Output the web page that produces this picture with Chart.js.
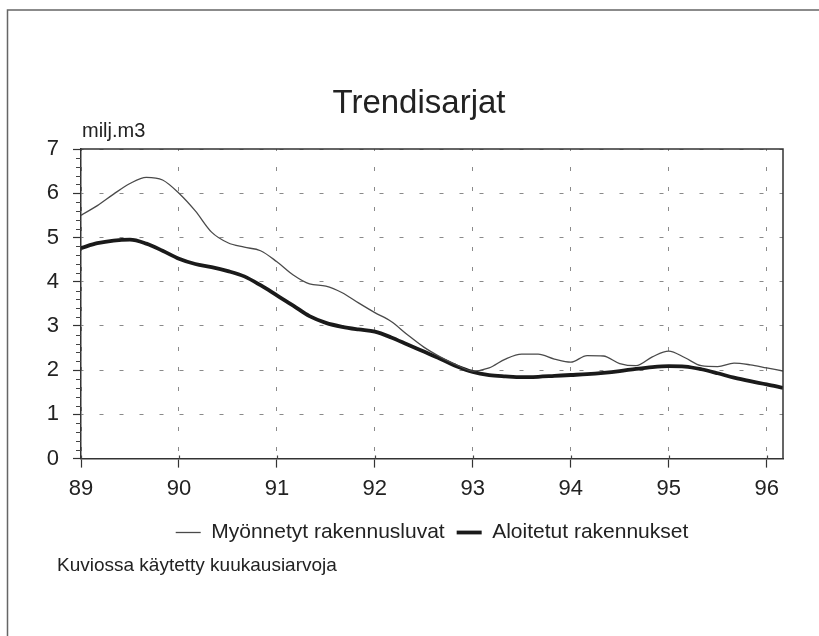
<!DOCTYPE html>
<html>
<head>
<meta charset="utf-8">
<script src="https://cdn.jsdelivr.net/npm/chart.js@4"></script>
<style>
  html, body { margin: 0; padding: 0; background: #fff; }
  #wrap { width: 819px; height: 636px; position: relative; }
</style>
</head>
<body>
<div id="wrap"><canvas id="c" width="819" height="636"></canvas></div>
<script>
// ---- data (decimal years, every 2 months) ----
const years = [
  89.0, 89.167, 89.333, 89.5, 89.667, 89.833,
  90.0, 90.167, 90.333, 90.5, 90.667, 90.833,
  91.0, 91.167, 91.333, 91.5, 91.667, 91.833,
  92.0, 92.167, 92.333, 92.5, 92.667, 92.833,
  93.0, 93.167, 93.333, 93.5, 93.667, 93.833,
  94.0, 94.167, 94.333, 94.5, 94.667, 94.833,
  95.0, 95.167, 95.333, 95.5, 95.667, 95.833,
  96.0, 96.167
];
const permits = [ // Myönnetyt rakennusluvat
  5.50, 5.72, 5.98, 6.22, 6.36, 6.30,
  6.00, 5.60, 5.12, 4.88, 4.78, 4.70,
  4.45, 4.15, 3.95, 3.90, 3.75, 3.52,
  3.30, 3.10, 2.80, 2.52, 2.30, 2.12,
  1.98, 2.05, 2.25, 2.36, 2.36, 2.25,
  2.18, 2.33, 2.32, 2.15, 2.10, 2.30,
  2.43, 2.28, 2.10, 2.08, 2.16, 2.12,
  2.05, 1.98
];
const starts = [ // Aloitetut rakennukset
  4.76, 4.87, 4.93, 4.95, 4.86, 4.70,
  4.52, 4.40, 4.33, 4.24, 4.12, 3.92,
  3.69, 3.46, 3.22, 3.07, 2.98, 2.92,
  2.87, 2.74, 2.58, 2.42, 2.26, 2.09,
  1.96, 1.89, 1.86, 1.84, 1.85, 1.87,
  1.89, 1.91, 1.94, 1.98, 2.03, 2.07,
  2.09, 2.08, 2.02, 1.93, 1.83, 1.75,
  1.68, 1.60
];
const seriesNames = ['Myönnetyt rakennusluvat', 'Aloitetut rakennukset'];
const xTickLabels = ['89', '90', '91', '92', '93', '94', '95', '96'];
const yTickLabels = ['0', '1', '2', '3', '4', '5', '6', '7'];
const titleText = 'Trendisarjat';
const unitText = 'milj.m3';
const noteText = 'Kuviossa käytetty kuukausiarvoja';

const FONT = "'Liberation Sans', Arial, Helvetica, sans-serif";
Chart.defaults.font.family = FONT;
Chart.defaults.color = '#222';

const toPts = arr => arr.map((v, i) => ({ x: years[i], y: v }));

const decor = {
  id: 'decor',
  beforeDraw(chart) {
    const ctx = chart.ctx;
    ctx.save();
    ctx.fillStyle = '#fff';
    ctx.fillRect(0, 0, chart.width, chart.height);
    ctx.restore();
  },
  afterDraw(chart) {
    const ctx = chart.ctx;
    const a = chart.chartArea;
    const ys = chart.scales.y;
    const xs = chart.scales.x;
    ctx.save();
    // outer frame (left + top)
    ctx.strokeStyle = '#666';
    ctx.lineWidth = 1.5;
    ctx.beginPath();
    ctx.moveTo(7.5, chart.height);
    ctx.lineTo(7.5, 10);
    ctx.lineTo(chart.width, 10);
    ctx.stroke();
    // plot frame top + right
    ctx.strokeStyle = '#333';
    ctx.lineWidth = 1.5;
    ctx.beginPath();
    ctx.moveTo(a.left, a.top);
    ctx.lineTo(a.right, a.top);
    ctx.lineTo(a.right, a.bottom);
    ctx.stroke();
    // minor y ticks
    ctx.lineWidth = 1;
    ctx.strokeStyle = '#444';
    ctx.beginPath();
    for (let v = 0; v < 7; v++) {
      for (let k = 1; k < 5; k++) {
        const py = Math.round(ys.getPixelForValue(v + k * 0.2)) + 0.5;
        ctx.moveTo(a.left - 5, py);
        ctx.lineTo(a.left, py);
      }
    }
    ctx.stroke();
    // x major ticks: small part above the axis
    ctx.lineWidth = 1.2;
    ctx.beginPath();
    xs.ticks.forEach(t => {
      const px = Math.round(xs.getPixelForValue(t.value)) + 0.5;
      ctx.moveTo(px, a.bottom - 3);
      ctx.lineTo(px, a.bottom);
    });
    ctx.stroke();
    // texts
    ctx.fillStyle = '#222';
    ctx.textBaseline = 'alphabetic';
    ctx.textAlign = 'center';
    ctx.font = '33px ' + FONT;
    ctx.fillText(titleText, 419, 113);
    ctx.textAlign = 'left';
    ctx.font = '20px ' + FONT;
    ctx.fillText(unitText, 82, 137);
    ctx.font = '19px ' + FONT;
    ctx.fillText(noteText, 57, 571);
    ctx.restore();
  }
};

new Chart(document.getElementById('c'), {
  type: 'line',
  data: {
    datasets: [
      {
        label: seriesNames[0],
        data: toPts(permits),
        borderColor: '#4a4a4a',
        backgroundColor: '#4a4a4a',
        borderWidth: 1.3,
        pointRadius: 0,
        pointStyle: 'line',
        cubicInterpolationMode: 'monotone',
        fill: false
      },
      {
        label: seriesNames[1],
        data: toPts(starts),
        borderColor: '#1a1a1a',
        backgroundColor: '#1a1a1a',
        borderWidth: 3.8,
        pointRadius: 0,
        pointStyle: 'line',
        cubicInterpolationMode: 'monotone',
        fill: false
      }
    ]
  },
  options: {
    responsive: false,
    animation: false,
    events: [],
    layout: { padding: { left: 81, right: 36, top: 149, bottom: 83 } },
    plugins: {
      title: { display: false },
      tooltip: { enabled: false },
      legend: {
        display: true,
        position: 'bottom',
        align: 'center',
        labels: {
          usePointStyle: true,
          pointStyleWidth: 25,
          boxHeight: 20,
          padding: 12,
          color: '#222',
          font: { size: 21, family: FONT }
        }
      }
    },
    scales: {
      x: {
        type: 'linear',
        min: 89,
        max: 96.167,
        afterBuildTicks(scale) {
          scale.ticks = xTickLabels.map(t => ({ value: Number(t) }));
        },
        ticks: {
          includeBounds: false,
          stepSize: 1,
          padding: 8,
          color: '#222',
          font: { size: 22 },
          maxRotation: 0,
          autoSkip: false,
          callback: (v) => xTickLabels[Math.round(v) - 89]
        },
        grid: {
          color: '#8a8a8a',
          lineWidth: 1,
          drawTicks: true,
          tickLength: 9,
          tickColor: '#333',
          tickWidth: 1.2,
          tickBorderDash: []
        },
        border: { display: true, color: '#333', width: 1.5, dash: [4, 16], dashOffset: 2 }
      },
      y: {
        min: 0,
        max: 7,
        afterFit(scale) {
          scale.width = 0;
          // let tick labels draw into the left padding area
          scale._computeLabelArea = () => undefined;
        },
        ticks: {
          stepSize: 1,
          padding: 14,
          color: '#222',
          font: { size: 22 },
          callback: (v) => yTickLabels[v]
        },
        grid: {
          color: '#8a8a8a',
          lineWidth: 1,
          drawTicks: true,
          tickLength: 8,
          tickColor: '#333',
          tickWidth: 1.2,
          tickBorderDash: []
        },
        border: { display: true, color: '#333', width: 1.5, dash: [4, 16], dashOffset: 2 }
      }
    }
  },
  plugins: [decor]
});
</script>
</body>
</html>
